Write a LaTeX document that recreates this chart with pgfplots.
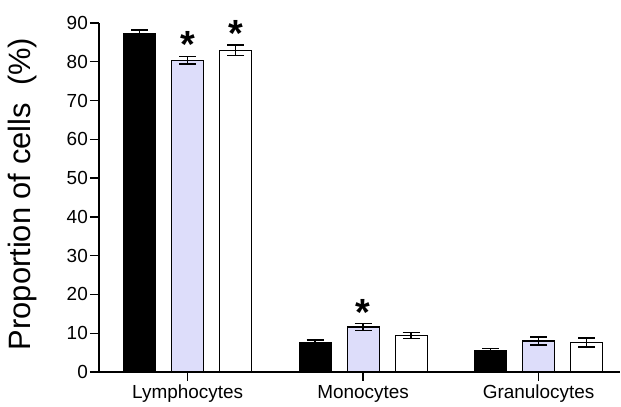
\documentclass[border=0pt]{standalone}
\usepackage{pgfplots}
\pgfplotsset{compat=1.18}
\usepackage{fontspec}
\setmainfont{Liberation Sans}
\definecolor{lav}{RGB}{221,221,250}
\pgfplotstableread{
x y e
0 87.2 1.0
1 7.5 0.7
2 5.6 0.5
}\tblack
\pgfplotstableread{
x y e
0 80.4 0.95
1 11.6 0.9
2 8.0 1.0
}\tlav
\pgfplotstableread{
x y e
0 83.0 1.4
1 9.4 0.8
2 7.6 1.2
}\twhite
\begin{document}
\begin{tikzpicture}
\begin{axis}[
 scale only axis, width=521bp, height=349bp,
 xmin=-0.505, xmax=2.4637, ymin=0, ymax=90,
 axis x line=bottom, axis y line=left,
 x axis line style={-}, y axis line style={-},
 axis line style={line width=1.5bp},
 ytick={0,10,...,90},
 xtick={0,1,2}, xticklabels={Lymphocytes,Monocytes,Granulocytes},
 tick style={line width=1.3bp, black},
 tick align=outside, major tick length=9bp,
 /pgf/number format/assume math mode=true,
 tick label style={font=\fontsize{19}{21}\selectfont},
 yticklabel style={inner xsep=2bp},
 xticklabel style={inner ysep=4bp},
 ylabel={Proportion of cells\ \ (\%)},
 ylabel style={font=\fontsize{31}{34}\selectfont, at={(rel axis cs:0,0.51)}, anchor=center, yshift=76bp},
 ybar, bar width=32bp,
 clip=false,
 error bars/y dir=both, error bars/y explicit,
 error bars/error mark options={line width=1.6bp, mark size=8.5bp, black, rotate=90},
 error bars/error bar style={line width=1.6bp, black},
]
\coordinate (O) at (axis cs:-0.505,0);
\addplot[fill=black, draw=black, line width=1.2bp, bar shift=-48bp] table[x=x, y=y, y error=e]{\tblack};
\addplot[fill=lav, draw=black, line width=1.2bp, bar shift=0bp] table[x=x, y=y, y error=e]{\tlav};
\addplot[fill=white, draw=black, line width=1.2bp, bar shift=48bp] table[x=x, y=y, y error=e]{\twhite};
\node[font=\bfseries\fontsize{38}{38}\selectfont, anchor=base, inner sep=0pt] at (axis cs:0,81.2) {*};
\node[font=\bfseries\fontsize{38}{38}\selectfont, anchor=base, inner sep=0pt] at (axis cs:0.2735,83.9) {*};
\node[font=\bfseries\fontsize{38}{38}\selectfont, anchor=base, inner sep=0pt] at (axis cs:1,12.1) {*};
\end{axis}
\path (O) ++(-99bp,-30bp) rectangle ++(621bp,402bp);
\end{tikzpicture}
\end{document}
